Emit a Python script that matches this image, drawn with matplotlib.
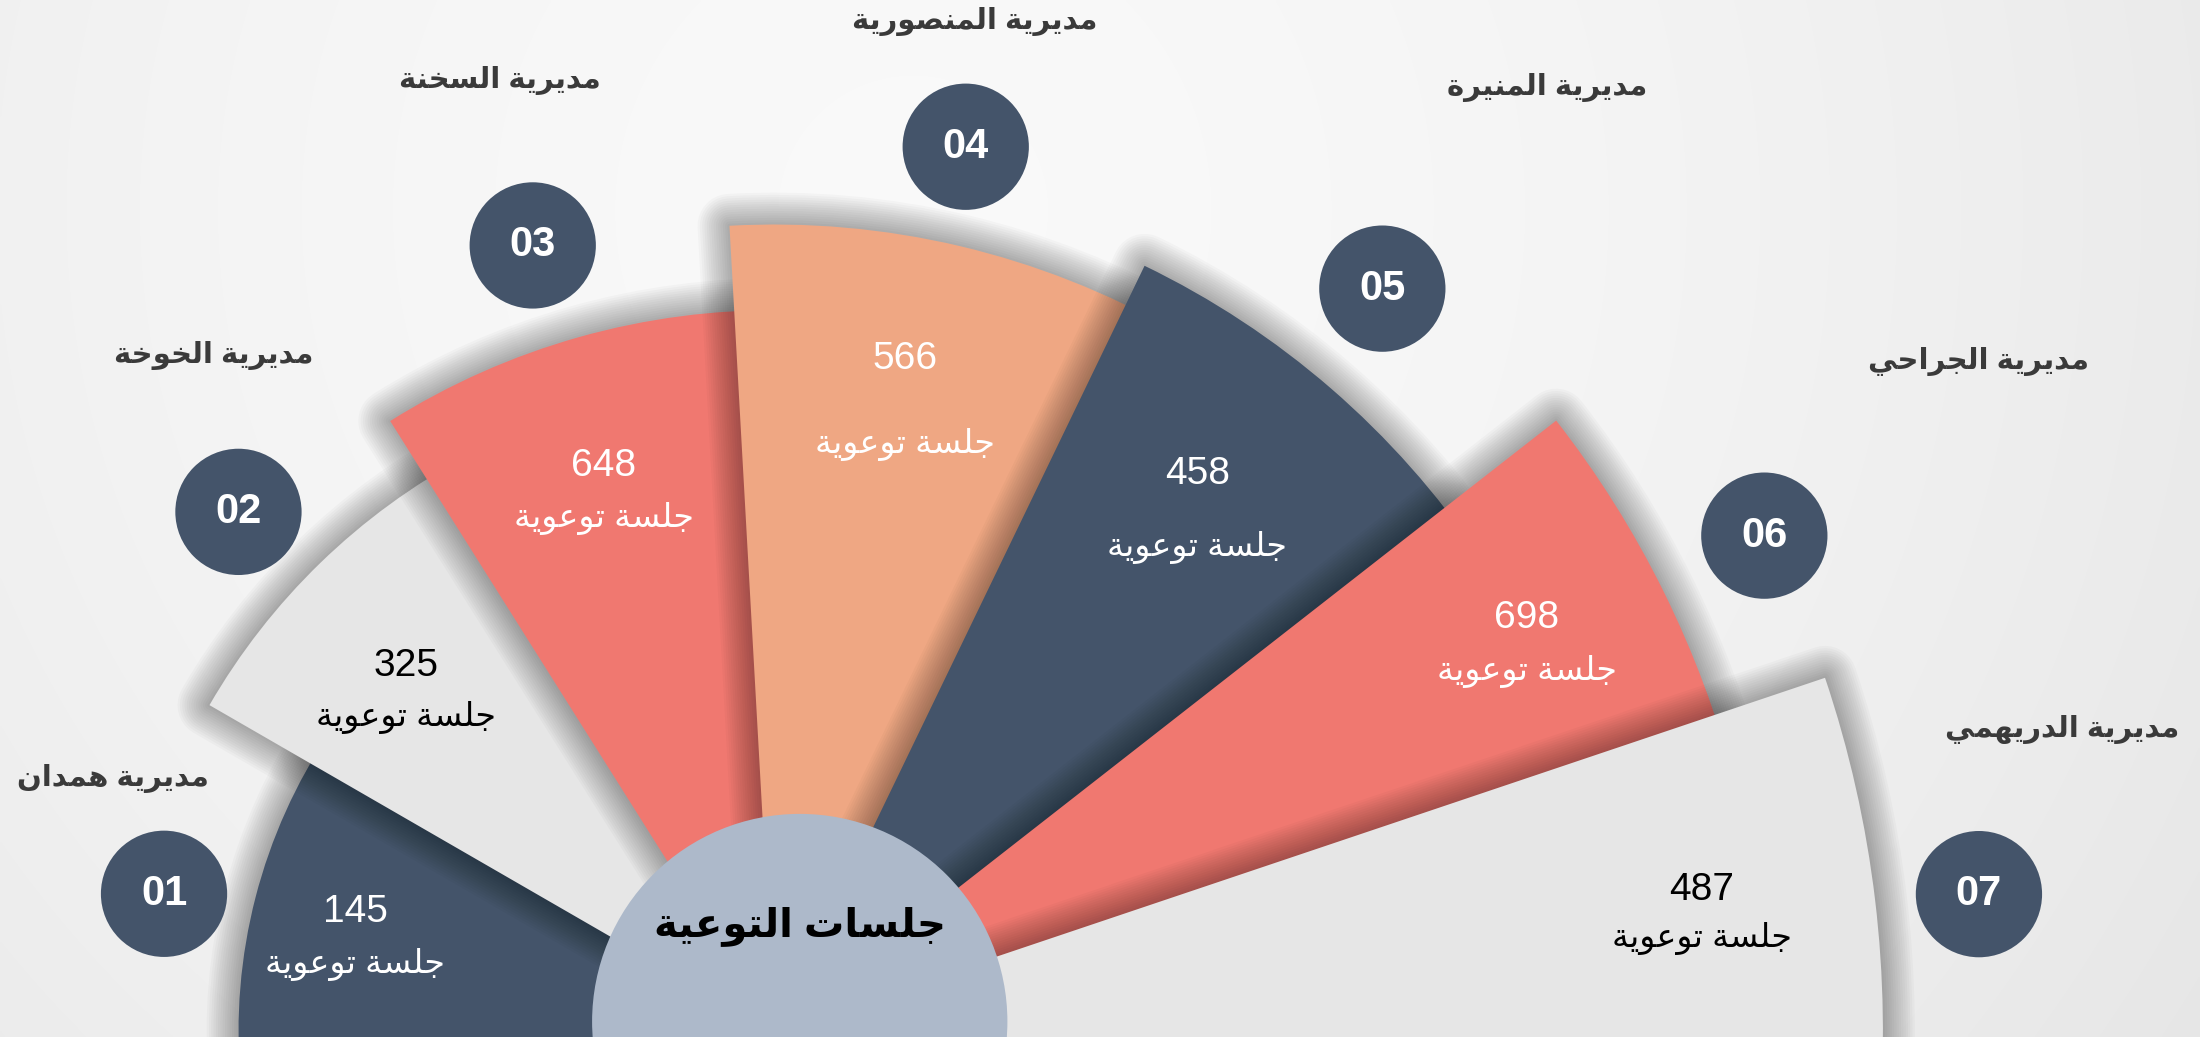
import numpy as np
import matplotlib
matplotlib.use('Agg')
import matplotlib.pyplot as plt
from matplotlib.patches import Wedge, Circle

# ---------------- data ----------------
districts = ['مديرية همدان', 'مديرية الخوخة', 'مديرية السخنة', 'مديرية المنصورية',
             'مديرية المنيرة', 'مديرية الجراحي', 'مديرية الدريهمي']
sessions = [145, 325, 648, 566, 458, 698, 487]
badges = ['01', '02', '03', '04', '05', '06', '07']
unit_label = 'جلسة توعوية'
center_title = 'جلسات التوعية'

# ---------------- style / layout ----------------
W, H = 1568, 739
CX, CY = 552, 4
edges_deg = [185, 150, 122.2, 93.2, 64.2, 38.0, 18.6, -5]
wedge_r = [382, 465, 514, 575, 606, 707, 790]
wedge_col = ['#44546a', '#e6e6e6', '#f07870', '#efa783', '#44546a', '#f07870', '#e6e6e6']
text_col = ['white', 'black', 'white', 'white', 'white', 'white', 'black']
text_ang = [167.5, 137.3, 107.6, 78.3, 50.9, 27.2, 7.2]
text_rad = [306, 357, 403, 458, 478, 603, 666]
text_gap = [37, 37, 37, 61, 52, 38, 35]
badge_ang = [167.3, 135.9, 107.1, 77.8, 50.7, 26.6, 6.5]
badge_rad = [446, 532, 586, 645, 684, 789, 864]
label_ang = [159.1, 129.7, 106.1, 78.8, 50.7, 29.1, 13.2]
label_rad = [505, 626, 705, 734, 869, 982, 943]
navy = '#44546a'

# --------------- minimal Arabic shaping ---------------
_FORMS = {
    'ا': (0xFE8D, 0xFE8E, None, None),
    'ة': (0xFE93, 0xFE94, None, None),
    'ت': (0xFE95, 0xFE96, 0xFE97, 0xFE98),
    'ج': (0xFE9D, 0xFE9E, 0xFE9F, 0xFEA0),
    'ح': (0xFEA1, 0xFEA2, 0xFEA3, 0xFEA4),
    'خ': (0xFEA5, 0xFEA6, 0xFEA7, 0xFEA8),
    'د': (0xFEA9, 0xFEAA, None, None),
    'ر': (0xFEAD, 0xFEAE, None, None),
    'س': (0xFEB1, 0xFEB2, 0xFEB3, 0xFEB4),
    'ص': (0xFEB9, 0xFEBA, 0xFEBB, 0xFEBC),
    'ع': (0xFEC9, 0xFECA, 0xFECB, 0xFECC),
    'ل': (0xFEDD, 0xFEDE, 0xFEDF, 0xFEE0),
    'م': (0xFEE1, 0xFEE2, 0xFEE3, 0xFEE4),
    'ن': (0xFEE5, 0xFEE6, 0xFEE7, 0xFEE8),
    'ه': (0xFEE9, 0xFEEA, 0xFEEB, 0xFEEC),
    'و': (0xFEED, 0xFEEE, None, None),
    'ي': (0xFEF1, 0xFEF2, 0xFEF3, 0xFEF4),
}


def shape(text):
    out = []
    n = len(text)
    for i, ch in enumerate(text):
        f = _FORMS.get(ch)
        if f is None:
            out.append(ch)
            continue
        prev = text[i - 1] if i > 0 else ''
        nxt = text[i + 1] if i < n - 1 else ''
        jp = prev in _FORMS and _FORMS[prev][2] is not None
        jn = nxt in _FORMS and f[2] is not None
        if jp and jn:
            c = f[3]
        elif jp:
            c = f[1]
        elif jn:
            c = f[2]
        else:
            c = f[0]
        out.append(chr(c))
    return ''.join(reversed(out))


def polar(r, a):
    t = np.deg2rad(a)
    return CX + r * np.cos(t), CY + r * np.sin(t)


FAM = ['Liberation Sans', 'DejaVu Sans']

fig = plt.figure(figsize=(22, 10.37), dpi=100)
ax = fig.add_axes([0, 0, 1, 1])

# background radial gradient
yy, xx = np.mgrid[0:H:2, 0:W:2]
d = np.hypot(xx - 650, yy - (H - 150))
bg = np.clip(0.978 - 0.065 * (d / 1000.0) ** 1.6, 0, 1)
ax.imshow(np.dstack([bg, bg, bg]), extent=[0, W, 0, H], origin='lower',
          zorder=0, interpolation='bilinear', aspect='auto')

# wedges with soft shadows
shadow_lw = np.linspace(46, 3, 14)
for k in range(len(sessions)):
    t2 = edges_deg[k]
    t1 = edges_deg[k + 1] - (4 if k < len(sessions) - 1 else 0)
    for lw in shadow_lw:
        ax.add_patch(Wedge((CX, CY), wedge_r[k], t1, t2, facecolor='none',
                           edgecolor='black', lw=lw, alpha=0.024,
                           joinstyle='round', zorder=9 + 2 * k))
    ax.add_patch(Wedge((CX, CY), wedge_r[k], t1, t2, facecolor=wedge_col[k],
                       edgecolor='none', zorder=10 + 2 * k))

# centre circle
ax.add_patch(Circle((570, 11), 148, facecolor='#adb9ca', edgecolor='none', zorder=30))
ax.text(570, 739 - 660, shape(center_title), ha='center', va='center',
        fontsize=29, fontweight='bold', color='black', family=FAM, zorder=40)

for k in range(len(sessions)):
    tx, ty = polar(text_rad[k], text_ang[k])
    g = text_gap[k] / 2
    ax.text(tx, ty + g, str(sessions[k]), ha='center', va='center', fontsize=28,
            color=text_col[k], family=FAM, zorder=40)
    ax.text(tx, ty - g, shape(unit_label), ha='center', va='center', fontsize=24,
            color=text_col[k], family=FAM, zorder=40)
    bx, by = polar(badge_rad[k], badge_ang[k])
    ax.add_patch(Circle((bx, by), 45, facecolor=navy, edgecolor='none', zorder=35))
    ax.text(bx, by, badges[k], ha='center', va='center', fontsize=30,
            fontweight='bold', color='white', family=FAM, zorder=40)
    lx, ly = polar(label_rad[k], label_ang[k])
    ax.text(lx, ly, shape(districts[k]), ha='center', va='center', fontsize=21,
            fontweight='bold', color='#3a3a3a', family=FAM, zorder=40)

ax.set_xlim(0, W)
ax.set_ylim(0, H)
ax.axis('off')
fig.savefig('out.png', dpi=100)
